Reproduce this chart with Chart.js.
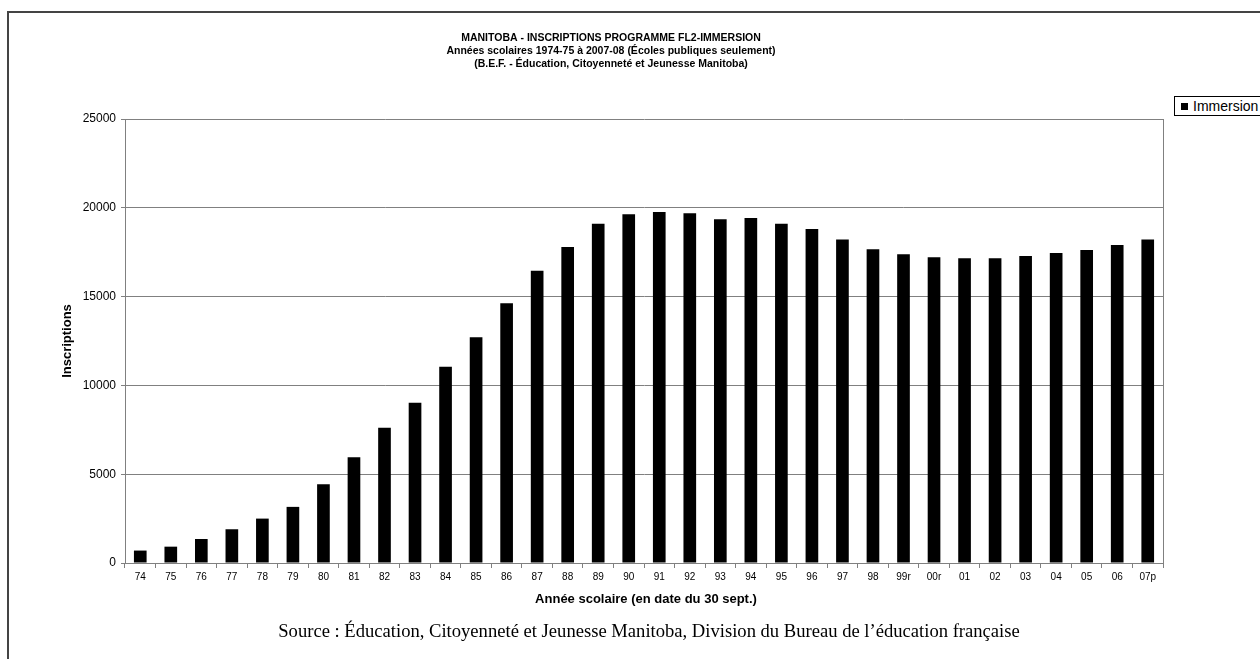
<!DOCTYPE html>
<html>
<head>
<meta charset="utf-8">
<script src="https://cdn.jsdelivr.net/npm/chart.js@4/dist/chart.umd.min.js"></script>
<style>
  html, body { margin: 0; padding: 0; background: #fff; }
  #wrap { position: relative; width: 1260px; height: 659px; overflow: hidden; }
  #frame { position: absolute; left: 7px; top: 11px; width: 1300px; height: 700px;
           border-left: 2px solid #444; border-top: 2px solid #444; }
  #legend { position: absolute; left: 1174px; top: 96px; width: 120px; height: 18px;
            border: 1px solid #000; background: #fff;
            font: 14px "Liberation Sans", Arial, sans-serif; line-height: 18px; }
  #legend span { display: inline-block; width: 7px; height: 7px; background: #000; margin: 0 5px 1px 6px; }
  canvas { position: absolute; left: 0; top: 0; }
</style>
</head>
<body>
<div id="wrap">
  <div id="frame"></div>
  <canvas id="chart" width="1260" height="659"></canvas>
  <div id="legend"><span></span>Immersion</div>
</div>
<script>
// school years (Sept 30)
const years = ["74","75","76","77","78","79","80","81","82","83","84","85","86","87","88","89","90",
  "91","92","93","94","95","96","97","98","99r","00r","01","02","03","04","05","06","07p"];
// enrolments
const immersion = [700, 920, 1350, 1900, 2500, 3160, 4440, 5960, 7610, 9020, 11050, 12710, 14620, 16450, 17790, 19100, 19640,
  19760, 19700, 19360, 19420, 19100, 18800, 18220, 17670, 17390, 17220, 17160, 17160, 17280, 17450, 17620, 17900, 18220];
const yTicks = [0, 5000, 10000, 15000, 20000, 25000];

const titleLines = [
  "MANITOBA - INSCRIPTIONS PROGRAMME FL2-IMMERSION",
  "Années scolaires 1974-75 à 2007-08 (Écoles publiques seulement)",
  "(B.E.F. - Éducation, Citoyenneté et Jeunesse Manitoba)"
];
const sourceText = "Source : Éducation, Citoyenneté et Jeunesse Manitoba, Division du Bureau de l’éducation française";

const ARIAL = "'Liberation Sans', Arial, sans-serif";

// titles, source note and the plot border
const decor = {
  id: "decor",
  afterDraw(chart) {
    const c = chart.ctx, a = chart.chartArea;
    c.save();
    c.strokeStyle = "#808080";
    c.lineWidth = 1;
    c.beginPath();
    c.moveTo(a.right + 0.5, a.top);
    c.lineTo(a.right + 0.5, a.bottom);
    c.stroke();

    c.fillStyle = "#000";
    c.textAlign = "center";
    c.textBaseline = "middle";
    c.font = "bold 10.5px " + ARIAL;
    titleLines.forEach((t, i) => c.fillText(t, 611, 38 + i * 13));

    c.font = "bold 13px " + ARIAL;
    c.fillText("Année scolaire (en date du 30 sept.)", 646, 599);

    c.font = "18.6px 'Liberation Serif', 'Times New Roman', serif";
    c.fillText(sourceText, 649, 632);
    c.restore();
  }
};

new Chart(document.getElementById("chart"), {
  type: "bar",
  data: {
    labels: years,
    datasets: [{
      label: "Immersion",
      data: immersion,
      backgroundColor: "#000",
      borderWidth: 0,
      barPercentage: 0.415,
      categoryPercentage: 1
    }]
  },
  options: {
    responsive: false,
    animation: false,
    layout: { padding: { left: 57, right: 97, top: 119, bottom: 48 } },
    plugins: { legend: { display: false }, tooltip: { enabled: false }, title: { display: false } },
    scales: {
      x: {
        grid: { offset: true, drawOnChartArea: false, color: "#808080", tickLength: 5 },
        border: { color: "#808080" },
        ticks: { color: "#000", font: { family: ARIAL, size: 10 }, maxRotation: 0, autoSkip: false, padding: 3 },
        afterFit(s) { s.height = 48; }
      },
      y: {
        min: 0, max: 25000,
        afterBuildTicks(s) { s.ticks = yTicks.map(v => ({ value: v })); },
        grid: { color: "#808080", tickLength: 4 },
        border: { color: "#808080" },
        ticks: { color: "#000", font: { family: ARIAL, size: 12 }, padding: 5, callback: v => String(v) },
        title: { display: true, text: "Inscriptions", color: "#000", font: { family: ARIAL, size: 13, weight: "bold" }, padding: { top: 3, bottom: 0 } },
        afterFit(s) { s.width = 68; }
      }
    }
  },
  plugins: [decor]
});
</script>
</body>
</html>
